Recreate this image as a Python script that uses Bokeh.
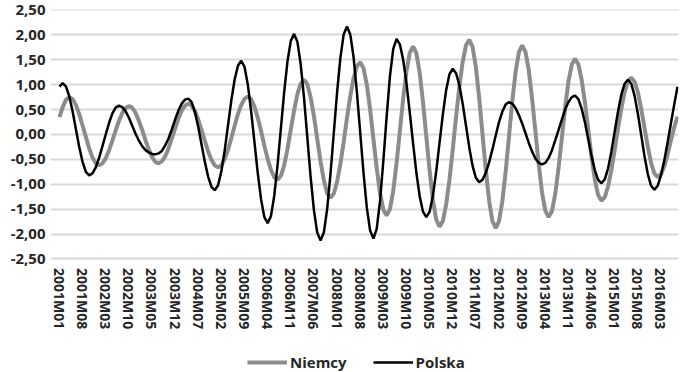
from bokeh.plotting import figure
from bokeh.models import ColumnDataSource, Legend, LegendItem, FixedTicker, Range1d
from bokeh.embed import file_html
from bokeh.resources import INLINE

tick_labels = ["2001M01", "2001M08", "2002M03", "2002M10", "2003M05", "2003M12", "2004M07",
               "2005M02", "2005M09", "2006M04", "2006M11", "2007M06", "2008M01", "2008M08",
               "2009M03", "2009M10", "2010M05", "2010M12", "2011M07", "2012M02", "2012M09",
               "2013M04", "2013M11", "2014M06", "2015M01", "2015M08", "2016M03"]
tick_step = 7

y_ticks = [-2.5, -2.0, -1.5, -1.0, -0.5, 0.0, 0.5, 1.0, 1.5, 2.0, 2.5]
y_tick_labels = ["-2,50", "-2,00", "-1,50", "-1,00", "-0,50", "0,00", "0,50", "1,00", "1,50", "2,00", "2,50"]

niemcy = [
    0.35, 0.55, 0.70, 0.75,
    0.71, 0.59, 0.41, 0.18, -0.05, -0.28, -0.46, -0.58, -0.62,
    -0.58, -0.48, -0.32, -0.13, 0.08, 0.27, 0.43, 0.53, 0.57,
    0.54, 0.44, 0.28, 0.10, -0.11, -0.29, -0.45, -0.55, -0.58,
    -0.54, -0.44, -0.28, -0.08, 0.12, 0.32, 0.48, 0.58, 0.62,
    0.58, 0.47, 0.30, 0.09, -0.13, -0.34, -0.51, -0.62, -0.66,
    -0.62, -0.49, -0.31, -0.07, 0.17, 0.41, 0.59, 0.72, 0.76,
    0.71, 0.56, 0.34, 0.07, -0.22, -0.49, -0.71, -0.86, -0.91,
    -0.83, -0.62, -0.29, 0.10, 0.48, 0.81, 1.02, 1.10,
    1.01, 0.75, 0.37, -0.09, -0.54, -0.92, -1.18, -1.27,
    -1.19, -0.95, -0.59, -0.15, 0.33, 0.77, 1.13, 1.37, 1.45,
    1.33, 1.00, 0.50, -0.09, -0.68, -1.18, -1.51, -1.63,
    -1.50, -1.13, -0.58, 0.07, 0.72, 1.27, 1.64, 1.77,
    1.63, 1.24, 0.65, -0.04, -0.73, -1.32, -1.71, -1.85,
    -1.74, -1.41, -0.91, -0.30, 0.35, 0.96, 1.46, 1.79, 1.90,
    1.76, 1.35, 0.73, 0.01, -0.71, -1.33, -1.74, -1.88,
    -1.74, -1.34, -0.75, -0.05, 0.66, 1.25, 1.65, 1.79,
    1.66, 1.29, 0.72, 0.07, -0.59, -1.16, -1.53, -1.66,
    -1.54, -1.20, -0.68, -0.07, 0.54, 1.06, 1.40, 1.52,
    1.41, 1.10, 0.64, 0.10, -0.45, -0.91, -1.22, -1.33,
    -1.26, -1.04, -0.71, -0.31, 0.12, 0.52, 0.85, 1.07, 1.14,
    1.06, 0.85, 0.52, 0.14, -0.24, -0.57, -0.78, -0.86,
    -0.80, -0.64, -0.40, -0.12, 0.14, 0.36,
]

polska = [
    0.96, 1.03,
    0.96, 0.76, 0.46, 0.10, -0.25, -0.55, -0.75, -0.82,
    -0.78, -0.66, -0.47, -0.24, 0.00, 0.23, 0.42, 0.54, 0.58,
    0.55, 0.47, 0.34, 0.18, 0.02, -0.12, -0.23, -0.31, -0.36, -0.39, -0.40,
    -0.38, -0.33, -0.22, -0.08, 0.10, 0.30, 0.48, 0.62, 0.70, 0.72,
    0.65, 0.45, 0.15, -0.20, -0.55, -0.85, -1.05, -1.12,
    -1.02, -0.74, -0.32, 0.18, 0.68, 1.10, 1.38, 1.48,
    1.36, 1.00, 0.47, -0.15, -0.77, -1.30, -1.66, -1.78,
    -1.64, -1.23, -0.61, 0.12, 0.85, 1.47, 1.88, 2.02,
    1.86, 1.41, 0.74, -0.06, -0.85, -1.52, -1.97, -2.13,
    -1.97, -1.50, -0.80, 0.02, 0.84, 1.54, 2.01, 2.17,
    2.01, 1.55, 0.85, 0.04, -0.77, -1.47, -1.93, -2.09,
    -1.89, -1.34, -0.53, 0.36, 1.17, 1.72, 1.92,
    1.81, 1.50, 1.03, 0.44, -0.18, -0.77, -1.24, -1.55, -1.66,
    -1.55, -1.23, -0.74, -0.17, 0.40, 0.89, 1.21, 1.32,
    1.23, 0.99, 0.62, 0.18, -0.26, -0.63, -0.87, -0.96,
    -0.91, -0.77, -0.56, -0.30, -0.02, 0.25, 0.46, 0.60, 0.65,
    0.62, 0.53, 0.39, 0.22, 0.03, -0.17, -0.34, -0.48, -0.57, -0.60,
    -0.57, -0.47, -0.32, -0.12, 0.09, 0.30, 0.50, 0.65, 0.75, 0.78,
    0.71, 0.52, 0.24, -0.10, -0.44, -0.72, -0.91, -0.98,
    -0.90, -0.68, -0.34, 0.06, 0.46, 0.80, 1.02, 1.10,
    1.02, 0.78, 0.42, 0.00, -0.43, -0.79, -1.03, -1.11,
    -1.03, -0.82, -0.52, -0.16, 0.22, 0.60, 0.96,
]

n = min(len(niemcy), len(polska))
idx = list(range(n))
src = ColumnDataSource(dict(x=idx, niemcy=niemcy[:n], polska=polska[:n]))

FONT = "Open Sans"
TXT = "#262626"

# the frame also holds the label strip and legend under the -2,50 line
p = figure(frame_width=628, frame_height=363, output_backend="svg", toolbar_location=None,
           x_range=Range1d(-2.7, n - 0.7), y_range=Range1d(-4.78, 2.51),
           min_border_left=50, min_border_right=2, min_border_top=9, min_border_bottom=0)
p.outline_line_color = None
p.background_fill_color = "white"
p.border_fill_color = "white"

p.xgrid.grid_line_color = None
p.ygrid.ticker = FixedTicker(ticks=y_ticks)
p.ygrid.grid_line_color = "#d9d9d9"
p.ygrid.grid_line_width = 2

p.yaxis.ticker = FixedTicker(ticks=y_ticks)
p.yaxis.major_label_overrides = {t: l for t, l in zip(y_ticks, y_tick_labels)}
p.yaxis.axis_line_color = None
p.yaxis.major_tick_line_color = None
p.yaxis.minor_tick_line_color = None
p.yaxis.major_tick_out = 0
p.yaxis.major_tick_in = 0
p.yaxis.minor_tick_out = 0
p.yaxis.axis_label = None
p.yaxis.major_label_text_font = FONT
p.yaxis.major_label_text_font_size = "15px"
p.yaxis.major_label_text_font_style = "bold"
p.yaxis.major_label_text_color = TXT
p.yaxis.major_label_standoff = 5

x_ticks = [i * tick_step for i in range(len(tick_labels))]
p.xaxis.ticker = FixedTicker(ticks=x_ticks)
p.xaxis.fixed_location = -2.52
p.xaxis.major_label_overrides = {t: l for t, l in zip(x_ticks, tick_labels)}
p.xaxis.major_label_orientation = "vertical"
p.xaxis.axis_line_color = None
p.xaxis.major_tick_line_color = None
p.xaxis.minor_tick_line_color = None
p.xaxis.major_tick_out = 0
p.xaxis.major_tick_in = 0
p.xaxis.minor_tick_out = 0
p.xaxis.axis_label = None
p.xaxis.major_label_text_font = FONT
p.xaxis.major_label_text_font_size = "14px"
p.xaxis.major_label_text_font_style = "bold"
p.xaxis.major_label_text_color = TXT
p.xaxis.major_label_standoff = 8

r_n = p.line("x", "niemcy", source=src, line_color="#8c8c8c", line_width=4)
r_p = p.line("x", "polska", source=src, line_color="#000000", line_width=2.5)

legend = Legend(items=[LegendItem(label="Niemcy", renderers=[r_n]),
                       LegendItem(label="Polska", renderers=[r_p])],
                orientation="horizontal", location=(197, 0),
                glyph_width=40, label_standoff=3, spacing=26,
                label_text_font=FONT, label_text_font_size="15px",
                label_text_font_style="bold", label_text_color=TXT,
                border_line_color=None, background_fill_alpha=0,
                padding=0, margin=0)
p.add_layout(legend, "center")

open("out.html", "w").write(file_html(p, INLINE))
